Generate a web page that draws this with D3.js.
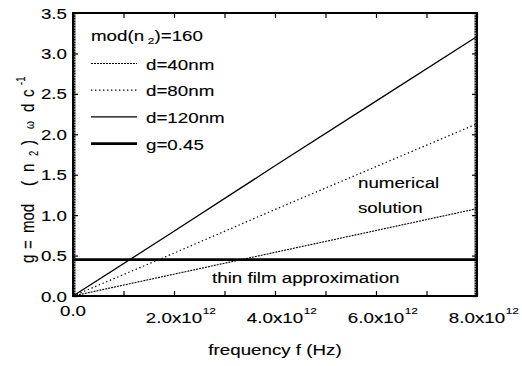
<!DOCTYPE html>
<html>
<head>
<meta charset="utf-8">
<script src="https://cdn.jsdelivr.net/npm/d3@7"></script>
<style>
  body { margin: 0; background: #fff; }
  text { font-family: "Liberation Sans", Arial, sans-serif; fill: #000; stroke: #000; stroke-width: 0.12; }
</style>
</head>
<body>
<div id="chart"></div>
<script>
// data
const freq = [0, 2e12, 4e12, 6e12, 8e12];
const g40 = [0, 0.27, 0.54, 0.81, 1.08];
const g80 = [0, 0.53, 1.07, 1.60, 2.13];
const g120 = [0, 0.80, 1.61, 2.41, 3.21];
const gThin = 0.45;
const seriesNames = ["d=40nm", "d=80nm", "d=120nm", "g=0.45"];
const xTickLabels = ["0.0", "2.0", "4.0", "6.0", "8.0"];
const yTickLabels = ["0.0", "0.5", "1.0", "1.5", "2.0", "2.5", "3.0", "3.5"];

const width = 522, height = 366;
const sx = 1.25; // the scan is stretched sideways
const fs = 15;
const margin = {top: 13, right: 45, bottom: 70, left: 73};

const svg = d3.select("#chart").append("svg")
    .attr("width", width)
    .attr("height", height);

const x = d3.scaleLinear().domain([0, 8e12]).range([margin.left, width - margin.right]);
const y = d3.scaleLinear().domain([0, 3.5]).range([height - margin.bottom, margin.top]);

function txt(parent, px, py, str, anchor, size) {
    return parent.append("text")
        .attr("transform", `translate(${px},${py}) scale(${sx},1)`)
        .attr("text-anchor", anchor || "start")
        .style("font-size", (size || fs) + "px")
        .text(str);
}

// ticks, all pointing inward
const xTicks = d3.range(0, 9e12, 1e12);
const yMajor = d3.range(0, 3.51, 0.5);
const yMinor = d3.range(0, 3.5, 0.02);

const axes = svg.append("g");
axes.append("g").attr("transform", `translate(0,${y(0)})`)
    .call(d3.axisBottom(x).tickValues(xTicks).tickSize(-5).tickFormat(""));
axes.append("g").attr("transform", `translate(0,${y(3.5)})`)
    .call(d3.axisTop(x).tickValues(xTicks).tickSize(-5).tickFormat(""));
axes.append("g").attr("transform", `translate(${x(0)},0)`)
    .call(d3.axisLeft(y).tickValues(yMajor).tickSize(-5).tickFormat(""));
axes.append("g").attr("transform", `translate(${x(8e12)},0)`)
    .call(d3.axisRight(y).tickValues(yMajor).tickSize(-5).tickFormat(""));
axes.append("g").attr("transform", `translate(${x(0)},0)`)
    .call(d3.axisLeft(y).tickValues(yMinor).tickSize(-2.5).tickFormat(""));
axes.append("g").attr("transform", `translate(${x(8e12)},0)`)
    .call(d3.axisRight(y).tickValues(yMinor).tickSize(-2.5).tickFormat(""));
axes.selectAll(".domain").remove();
axes.selectAll(".tick line").attr("stroke", "#000").attr("stroke-width", 1.2);

// data lines
const line = d3.line().x(d => x(d[0])).y(d => y(d[1]));
const plot = svg.append("g");
plot.append("path").datum(freq.map((f, i) => [f, g40[i]]))
    .attr("d", line).attr("fill", "none").attr("stroke", "#000")
    .attr("stroke-width", 1.1).attr("stroke-dasharray", "2,1");
plot.append("path").datum(freq.map((f, i) => [f, g80[i]]))
    .attr("d", line).attr("fill", "none").attr("stroke", "#000")
    .attr("stroke-width", 1.2).attr("stroke-dasharray", "1.4,2.6");
plot.append("path").datum(freq.map((f, i) => [f, g120[i]]))
    .attr("d", line).attr("fill", "none").attr("stroke", "#000")
    .attr("stroke-width", 1.3);
plot.append("path").datum([[0, gThin], [8e12, gThin]])
    .attr("d", line).attr("fill", "none").attr("stroke", "#000")
    .attr("stroke-width", 2.6);

// frame
svg.append("rect")
    .attr("x", x(0)).attr("y", y(3.5))
    .attr("width", x(8e12) - x(0)).attr("height", y(0) - y(3.5))
    .attr("fill", "none").attr("stroke", "#000").attr("stroke-width", 2);

// y tick labels
yTickLabels.forEach((lab, i) => {
    txt(svg, x(0) - 6, y(yMajor[i]) + 5.5, lab, "end");
});

// x tick labels with x10^12
xTickLabels.forEach((lab, i) => {
    const xv = i * 2e12;
    if (xv === 0) {
        txt(svg, x(xv), y(0) + 20, lab, "middle");
        return;
    }
    const t = txt(svg, x(xv), y(0) + 27, lab + "x10", "middle");
    const w = t.node().getComputedTextLength() * sx;
    txt(svg, x(xv) + w / 2 + 0.5, y(0) + 18, "12", "start", 9.5);
});

// axis titles
txt(svg, (x(0) + x(8e12)) / 2, 355, "frequency f (Hz)", "middle");

const yl = svg.append("text")
    .attr("transform", `translate(34,263) rotate(-90) scale(1,${sx})`)
    .style("font-size", fs + "px");
yl.append("tspan").attr("x", 0).text("g");
yl.append("tspan").attr("x", 14).text("=");
yl.append("tspan").attr("x", 30).text("mod");
yl.append("tspan").attr("x", 77).text("(");
yl.append("tspan").attr("x", 91).text("n");
yl.append("tspan").attr("x", 107).attr("dy", 3).style("font-size", "9.5px").text("2");
yl.append("tspan").attr("x", 118).attr("dy", -3).text(")");
yl.append("tspan").attr("x", 134).style("font-size", "10px").text("ω");
yl.append("tspan").attr("x", 151).text("d");
yl.append("tspan").attr("x", 166).text("c");
yl.append("tspan").attr("x", 178).attr("dy", -7).style("font-size", "9.5px").text("-1");

// legend
const lx0 = 91, lx1 = 137, ly0 = 63.5, lstep = 26.7;
const leg = svg.append("g");
const t0 = leg.append("text")
    .attr("transform", `translate(${lx0},41) scale(${sx},1)`)
    .style("font-size", fs + "px");
t0.append("tspan").text("mod(n");
t0.append("tspan").attr("dx", 3).attr("dy", 3).style("font-size", "9.5px").text("2");
t0.append("tspan").attr("dy", -3).text(")=160");

const legStyle = [
    {dash: "2,1", w: 1.1},
    {dash: "1.4,2.6", w: 1.2},
    {dash: null, w: 1.3},
    {dash: null, w: 2.6}
];
seriesNames.forEach((name, i) => {
    const ly = ly0 + i * lstep;
    leg.append("line")
        .attr("x1", lx0).attr("x2", lx1).attr("y1", ly).attr("y2", ly)
        .attr("stroke", "#000").attr("stroke-width", legStyle[i].w)
        .attr("stroke-dasharray", legStyle[i].dash);
    txt(leg, lx1 + 9, ly + 6, name, "start");
});

// annotations
txt(svg, 358, 188, "numerical", "start");
txt(svg, 358, 213, "solution", "start");
txt(svg, 212, 283, "thin film approximation", "start");
</script>
</body>
</html>
